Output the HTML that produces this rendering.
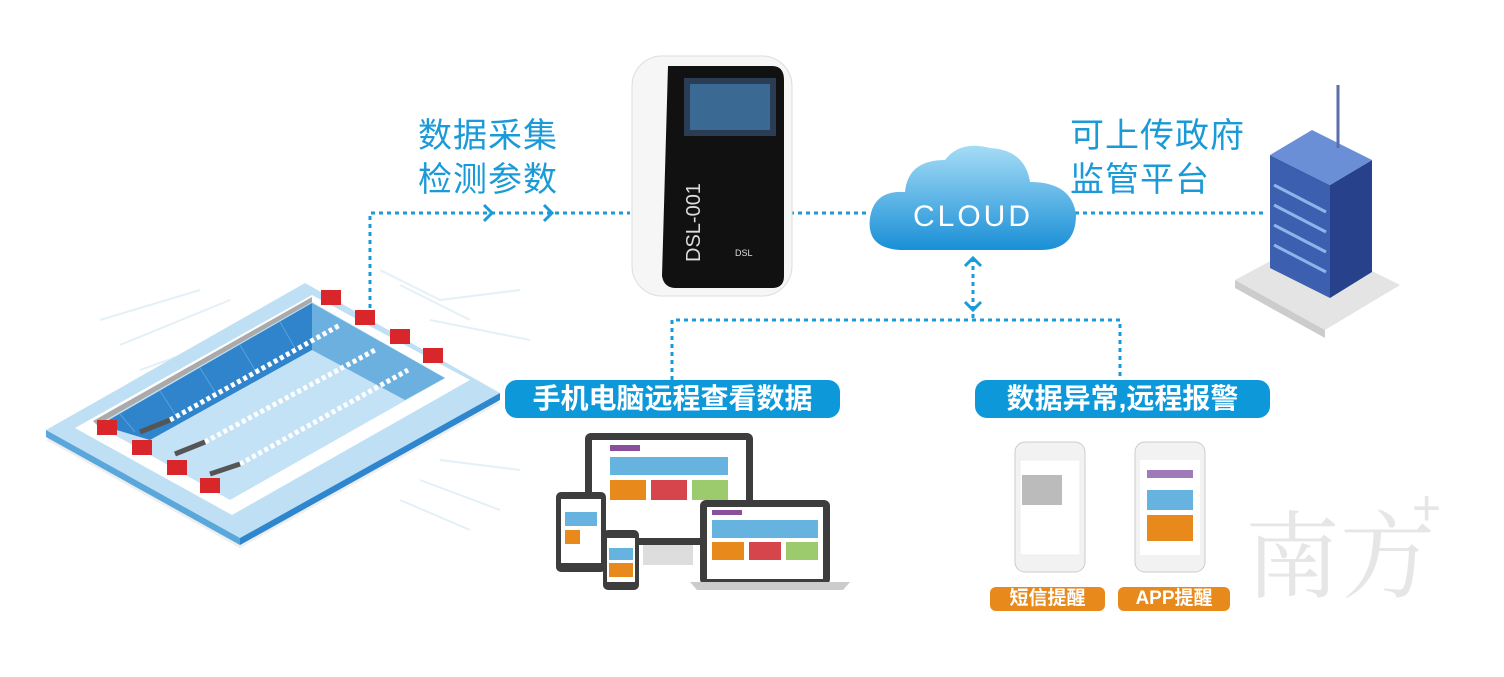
<!DOCTYPE html>
<html><head><meta charset="utf-8"><style>
body{margin:0;background:#fff;width:1504px;height:677px;overflow:hidden;position:relative;font-family:"Liberation Sans","Noto Sans CJK SC",sans-serif}
.t{position:absolute;color:#1b9ad8;font-size:34px;line-height:44px;letter-spacing:1px}
.pill{position:absolute;background:#0d98da;color:#fff;border-radius:12px;font-size:28px;line-height:38px;text-align:center;font-weight:bold}
.op{position:absolute;background:#e8891c;color:#fff;border-radius:6px;font-size:19px;line-height:24px;text-align:center;font-weight:bold}
</style></head><body>
<svg width="1504" height="677" style="position:absolute;left:0;top:0">
<g stroke="#e3f1f7" stroke-width="2" fill="none">
<path d="M100 320 L200 290 M120 345 L230 300 M140 370 L210 345 M380 270 L440 300 L520 290 M400 285 L470 320 M430 320 L530 340 M440 460 L520 470 M420 480 L500 510 M400 500 L470 530"/>
</g>
<!-- pool -->
<polygon points="46,440 240,548 500,403 305,295" fill="#eeeeee"/>
<polygon points="46,430 240,538 500,393 305,283" fill="#bfe0f4"/>
<polygon points="46,430 240,538 240,545 46,437" fill="#5aa7dc"/>
<polygon points="240,538 500,393 500,400 240,545" fill="#2e86cf"/>
<polygon points="75,428 232,515 470,380 312,295" fill="#fff"/>
<polygon points="97,425 230,500 445,378 312,302" fill="#c3e2f5"/>
<polygon points="100,425 312,303 312,350 150,440" fill="#2f84cc"/>
<polygon points="312,303 445,378 405,400 312,350" fill="#6cb0e0"/>
<g stroke="#6aaee0" stroke-width="1" opacity="0.7">
<line x1="120" y1="414" x2="135" y2="432"/><line x1="160" y1="391" x2="175" y2="414"/><line x1="200" y1="368" x2="215" y2="392"/><line x1="240" y1="345" x2="255" y2="370"/><line x1="280" y1="322" x2="295" y2="348"/>
</g>
<polygon points="97,425 312,302 312,297 93,421" fill="#aaa"/>
<g stroke="#fff" stroke-width="5" stroke-dasharray="4 3">
<line x1="170" y1="420" x2="340" y2="325"/><line x1="205" y1="442" x2="375" y2="350"/><line x1="240" y1="464" x2="408" y2="370"/>
</g>
<g stroke="#555" stroke-width="5"><line x1="140" y1="432" x2="170" y2="420"/><line x1="175" y1="454" x2="205" y2="442"/><line x1="210" y1="474" x2="240" y2="464"/></g>
<g fill="#d9262b"><rect x="97" y="420" width="20" height="15"/><rect x="132" y="440" width="20" height="15"/><rect x="167" y="460" width="20" height="15"/><rect x="200" y="478" width="20" height="15"/><rect x="321" y="290" width="20" height="15"/><rect x="355" y="310" width="20" height="15"/><rect x="390" y="329" width="20" height="15"/><rect x="423" y="348" width="20" height="15"/></g>
<!-- dotted connectors -->
<g stroke="#1b9ad8" stroke-width="3" stroke-dasharray="4 4" fill="none">
<path d="M370 308 V213 H630"/><path d="M790 213 H870"/><path d="M1075 213 H1265"/>
<path d="M973 258 V320"/><path d="M672 380 V320 H1120 V380"/>
</g>
<g stroke="#1b9ad8" stroke-width="3" fill="none"><path d="M484 205 L492 213 L484 221"/><path d="M544 205 L552 213 L544 221"/><path d="M965 266 L973 258 L981 266"/><path d="M965 302 L973 310 L981 302"/></g>
<!-- device -->
<rect x="632" y="56" width="160" height="240" rx="30" fill="#f6f6f6" stroke="#ddd"/>
<path d="M668 66 H772 Q784 66 784 80 V276 Q784 288 772 288 H676 Q664 288 662 276 Z" fill="#111"/>
<rect x="684" y="78" width="92" height="58" fill="#2a3d55"/>
<rect x="690" y="84" width="80" height="46" fill="#3a6a94"/>
<text x="700" y="262" transform="rotate(-90 700 262)" fill="#ddd" font-size="20" font-family="Liberation Sans">DSL-001</text>
<text x="735" y="256" fill="#ddd" font-size="9">DSL</text>
<!-- cloud -->
<defs><linearGradient id="cg" x1="0" y1="0" x2="0" y2="1"><stop offset="0" stop-color="#a5dcf6"/><stop offset="1" stop-color="#1a8fd6"/></linearGradient></defs>
<path d="M900 250 Q866 248 870 218 Q874 190 905 192 Q908 160 945 160 Q960 140 990 148 Q1025 150 1030 182 Q1072 182 1076 215 Q1076 250 1040 250 Z" fill="url(#cg)"/>
<text x="973" y="226" text-anchor="middle" fill="#fff" font-size="30" font-family="Liberation Sans" letter-spacing="3">CLOUD</text>
<!-- building -->
<polygon points="1235,280 1325,330 1400,285 1310,240" fill="#e4e4e4"/>
<polygon points="1235,280 1325,330 1325,338 1235,288" fill="#ccc"/>
<polygon points="1270,155 1330,185 1330,298 1270,268" fill="#3d5fb0"/>
<polygon points="1330,185 1372,160 1372,272 1330,298" fill="#27428a"/>
<polygon points="1270,155 1312,130 1372,160 1330,185" fill="#6b8fd6"/>
<line x1="1338" y1="148" x2="1338" y2="85" stroke="#5a6fa8" stroke-width="3"/>
<g stroke="#8fb4ea" stroke-width="3"><line x1="1274" y1="185" x2="1326" y2="212"/><line x1="1274" y1="205" x2="1326" y2="232"/><line x1="1274" y1="225" x2="1326" y2="252"/><line x1="1274" y1="245" x2="1326" y2="272"/></g>
<!-- computers -->
<rect x="585" y="433" width="168" height="112" rx="6" fill="#3d3d3d"/>
<rect x="592" y="440" width="154" height="98" fill="#fff"/>
<rect x="610" y="457" width="118" height="18" fill="#65b3de"/><rect x="610" y="480" width="36" height="20" fill="#e8891c"/><rect x="651" y="480" width="36" height="20" fill="#d6454b"/><rect x="692" y="480" width="36" height="20" fill="#9ccb6e"/>
<rect x="610" y="445" width="30" height="6" fill="#8a4e9b"/>
<rect x="643" y="545" width="50" height="20" fill="#ddd"/>
<rect x="700" y="500" width="130" height="85" rx="6" fill="#3d3d3d"/>
<rect x="707" y="507" width="116" height="72" fill="#fff"/>
<rect x="712" y="520" width="106" height="18" fill="#65b3de"/><rect x="712" y="542" width="32" height="18" fill="#e8891c"/><rect x="749" y="542" width="32" height="18" fill="#d6454b"/><rect x="786" y="542" width="32" height="18" fill="#9ccb6e"/>
<rect x="712" y="510" width="30" height="5" fill="#8a4e9b"/>
<polygon points="690,582 850,582 843,590 697,590" fill="#ccc"/>
<rect x="556" y="492" width="50" height="80" rx="5" fill="#3d3d3d"/><rect x="561" y="499" width="40" height="64" fill="#fff"/><rect x="565" y="512" width="32" height="14" fill="#65b3de"/><rect x="565" y="530" width="15" height="14" fill="#e8891c"/>
<rect x="603" y="530" width="36" height="60" rx="5" fill="#3d3d3d"/><rect x="607" y="538" width="28" height="44" fill="#fff"/><rect x="609" y="548" width="24" height="12" fill="#65b3de"/><rect x="609" y="563" width="24" height="14" fill="#e8891c"/>
<!-- phones -->
<rect x="1015" y="442" width="70" height="130" rx="10" fill="#f2f2f2" stroke="#ccc"/><rect x="1020" y="460" width="60" height="95" fill="#fff" stroke="#eee"/><rect x="1022" y="475" width="40" height="30" fill="#bbb"/>
<rect x="1135" y="442" width="70" height="130" rx="10" fill="#f2f2f2" stroke="#ccc"/><rect x="1140" y="460" width="60" height="95" fill="#fff"/>
<rect x="1147" y="470" width="46" height="8" fill="#a07ab8"/><rect x="1147" y="490" width="46" height="20" fill="#65b3de"/><rect x="1147" y="515" width="46" height="26" fill="#e8891c"/>
<text x="1340" y="590" text-anchor="middle" fill="#e6e6e6" font-size="95" font-family="Noto Serif CJK SC,serif">南方</text>
<text x="1412" y="525" fill="#e6e6e6" font-size="50">+</text>
</svg>
<div class="t" style="left:418px;top:114px">数据采集<br>检测参数</div>
<div class="t" style="left:1070px;top:114px">可上传政府<br>监管平台</div>
<div class="pill" style="left:505px;top:380px;width:335px">手机电脑远程查看数据</div>
<div class="pill" style="left:975px;top:380px;width:295px">数据异常,远程报警</div>
<div class="op" style="left:990px;top:587px;width:115px">短信提醒</div>
<div class="op" style="left:1118px;top:587px;width:112px">APP提醒</div>
</body></html>
